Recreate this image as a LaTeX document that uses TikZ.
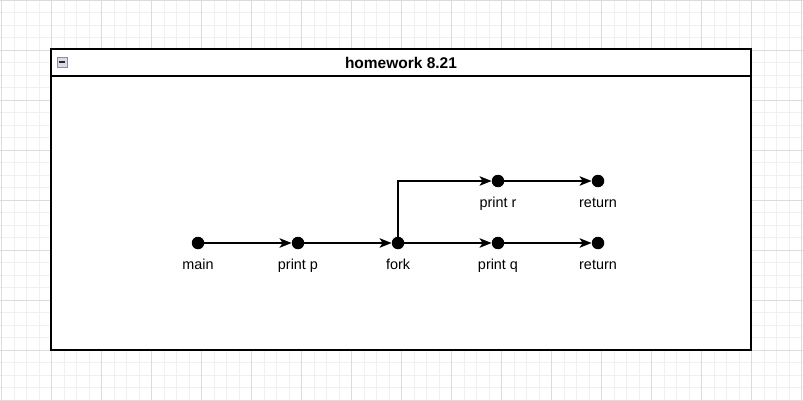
\documentclass[tikz,border=0pt]{standalone}
\usepackage{fontspec}
\setmainfont{Liberation Sans}
\usetikzlibrary{arrows.meta, positioning}
\definecolor{gridminor}{HTML}{F0F0F0}
\definecolor{gridmajor}{HTML}{DCDCDC}
\definecolor{iconedge}{HTML}{8A8FA0}
\definecolor{iconfill}{HTML}{D8DBE4}
\tikzset{
  dotnode/.style={circle, fill=black, inner sep=0pt, minimum size=12.5pt}
}
\tikzset{
  labeltext/.style={font=\fontsize{14.4}{16}\selectfont, inner sep=0pt,
    text height=10.5pt, text depth=3pt}
}
\tikzset{
  flowarrow/.style={line width=1.3pt, -{Stealth[length=12pt, width=9.5pt, inset=3pt]}}
}

\begin{document}
\begin{tikzpicture}[x=1pt, y=-1pt]
  \useasboundingbox (0,0) rectangle (803,401);
  % background grid
  \foreach \x in {1.5, 14, ..., 803} {
    \draw[gridminor, line width=0.8pt] (\x,0) -- (\x,401);
  }
  \foreach \y in {0, 12.5, ..., 401} {
    \draw[gridminor, line width=0.8pt] (0,\y) -- (803,\y);
  }
  \foreach \x in {1.5, 51.5, ..., 803} {
    \draw[gridmajor, line width=0.8pt] (\x,0) -- (\x,401);
  }
  \foreach \y in {0, 50, ..., 401} {
    \draw[gridmajor, line width=0.8pt] (0,\y) -- (803,\y);
  }
  % container with title bar
  \draw[line width=1.3pt, fill=white] (51,49) rectangle (751,350);
  \draw[line width=1.3pt] (51,76) -- (751,76);
  \node[font=\fontsize{15.5}{18}\selectfont\bfseries] (title) at (401,62.5) {homework 8.21};
  \node[draw=iconedge, fill=iconfill, line width=0.8pt, inner sep=0pt,
    minimum size=10pt] (collapse) at (62,62) {};
  \draw[line width=1.6pt, black!85] ([xshift=-3pt]collapse.center) -- ([xshift=3pt]collapse.center);
  % flow points
  \foreach \n/\x/\y/\t in {main/198/243/main, printp/298/243/print p,
      fork/398/243/fork, printq/498/243/print q, retq/598/243/return,
      printr/498/181/print r, retr/598/181/return} {
    \node[dotnode] (\n) at (\x,\y) {};
    \node[labeltext, below=9.5pt of \n] (\n-text) {\t};
  }
  \draw[flowarrow] (main) -- (printp);
  \draw[flowarrow] (printp) -- (fork);
  \draw[flowarrow] (fork) -- (printq);
  \draw[flowarrow] (printq) -- (retq);
  \draw[flowarrow] (fork.center) |- (printr);
  \draw[flowarrow] (printr) -- (retr);
\end{tikzpicture}
\end{document}
